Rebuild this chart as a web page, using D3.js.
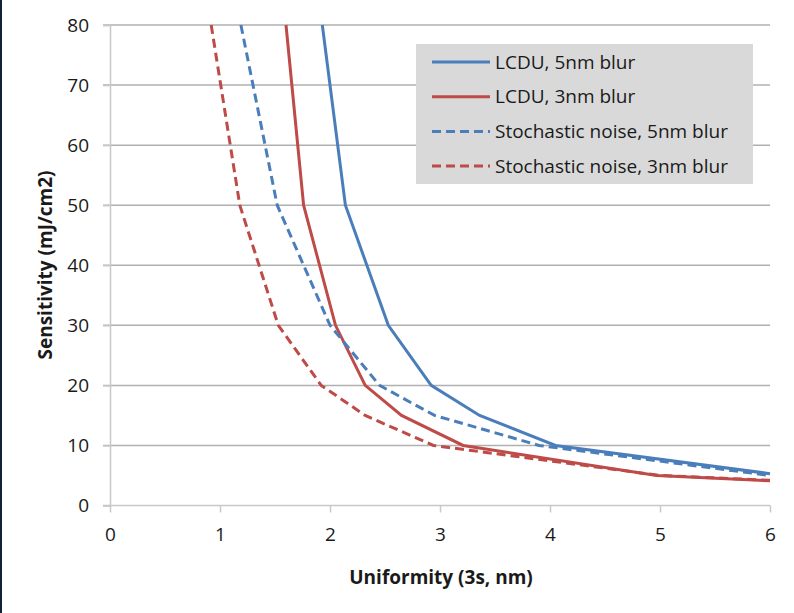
<!DOCTYPE html>
<html>
<head>
<meta charset="utf-8">
<script src="https://cdn.jsdelivr.net/npm/d3@7"></script>
<style>
  body { margin: 0; background: #fff; }
  svg { display: block; font-family: "Open Sans", sans-serif; }
</style>
</head>
<body>
<svg id="chart" width="794" height="613"></svg>
<script>
// series: [uniformity, sensitivity]
const lcdu5 = [[1.93, 80], [2.14, 50], [2.53, 30], [2.92, 20], [3.36, 15], [4.05, 10], [6, 5.3]];
const lcdu3 = [[1.60, 80], [1.76, 50], [2.05, 30], [2.32, 20], [2.65, 15], [3.21, 10], [4.97, 5], [6, 4.1]];
const noise5 = [[1.19, 80], [1.52, 50], [2.0, 30], [2.45, 20], [2.95, 15], [3.9, 10], [6, 5.0]];
const noise3 = [[0.92, 80], [1.18, 50], [1.53, 30], [1.92, 20], [2.32, 15], [2.94, 10], [5.0, 5], [6, 4.2]];

const seriesNames = ["LCDU, 5nm blur", "LCDU, 3nm blur", "Stochastic noise, 5nm blur", "Stochastic noise, 3nm blur"];
const xTicks = [0, 1, 2, 3, 4, 5, 6];
const yTicks = [0, 10, 20, 30, 40, 50, 60, 70, 80];

const blue = "#4a7ebb", red = "#be4b48";
const series = [
    {name: seriesNames[0], data: lcdu5, color: blue, dash: null},
    {name: seriesNames[1], data: lcdu3, color: red, dash: null},
    {name: seriesNames[2], data: noise5, color: blue, dash: "9,5"},
    {name: seriesNames[3], data: noise3, color: red, dash: "9,5"}
];

const svg = d3.select("#chart");

// dark edge on the left of the slide
svg.append("rect").attr("x", 0).attr("y", 0).attr("width", 2).attr("height", 613).attr("fill", "#13203d");

const x = d3.scaleLinear().domain([0, 6]).range([110, 770]);
const y = d3.scaleLinear().domain([0, 80]).range([505.5, 25]);

// horizontal gridlines
svg.append("g").selectAll("line")
    .data(yTicks.filter(d => d > 0))
    .enter().append("line")
    .attr("x1", 103).attr("x2", x(6))
    .attr("y1", d => y(d)).attr("y2", d => y(d))
    .attr("stroke", "#b0b0b0").attr("stroke-width", 1.5);

// y axis
const yAxis = svg.append("g")
    .attr("transform", "translate(" + x(0) + ",0)")
    .call(d3.axisLeft(y).tickValues(yTicks).tickSize(7).tickPadding(14).tickFormat(d3.format("d")));
yAxis.select(".domain").attr("stroke", "#c8c8c8").attr("stroke-width", 1.5);
yAxis.selectAll(".tick line").attr("stroke", "#c8c8c8").attr("stroke-width", 1.5);
yAxis.selectAll("text").attr("font-size", 19).attr("fill", "#1a1a1a").attr("font-family", "Open Sans");

// x axis
const xAxis = svg.append("g")
    .attr("transform", "translate(0," + y(0) + ")")
    .call(d3.axisBottom(x).tickValues(xTicks).tickSize(7).tickPadding(15).tickFormat(d3.format("d")));
xAxis.select(".domain").attr("stroke", "#c8c8c8").attr("stroke-width", 1.5).attr("d", "M103,0H" + x(6));
xAxis.selectAll(".tick line").attr("stroke", "#c8c8c8").attr("stroke-width", 1.5);
xAxis.selectAll("text").attr("font-size", 19).attr("fill", "#1a1a1a").attr("font-family", "Open Sans");

// axis titles
svg.append("text")
    .attr("x", 441).attr("y", 584)
    .attr("text-anchor", "middle")
    .attr("font-size", 19).attr("font-weight", "bold").attr("fill", "#1a1a1a")
    .text("Uniformity (3s, nm)");
svg.append("text")
    .attr("transform", "translate(52,265) rotate(-90)")
    .attr("text-anchor", "middle")
    .attr("font-size", 19).attr("font-weight", "bold").attr("fill", "#1a1a1a")
    .text("Sensitivity (mJ/cm2)");

// lines
const line = d3.line().x(d => x(d[0])).y(d => y(d[1]));
svg.append("g").selectAll("path")
    .data(series)
    .enter().append("path")
    .attr("d", d => line(d.data))
    .attr("fill", "none")
    .attr("stroke", d => d.color)
    .attr("stroke-width", 3)
    .attr("stroke-dasharray", d => d.dash);

// legend
const legend = svg.append("g");
legend.append("rect")
    .attr("x", 416).attr("y", 44).attr("width", 337).attr("height", 140)
    .attr("fill", "#d9d9d9");
const rows = legend.selectAll("g.row")
    .data(series)
    .enter().append("g")
    .attr("class", "row")
    .attr("transform", (d, i) => "translate(0," + (62 + i * 34.7) + ")");
rows.append("line")
    .attr("x1", 432).attr("x2", 490)
    .attr("stroke", d => d.color).attr("stroke-width", 3)
    .attr("stroke-dasharray", d => d.dash);
rows.append("text")
    .attr("x", 495).attr("dy", "0.35em")
    .attr("font-size", 19).attr("fill", "#1a1a1a")
    .text(d => d.name);
</script>
</body>
</html>
